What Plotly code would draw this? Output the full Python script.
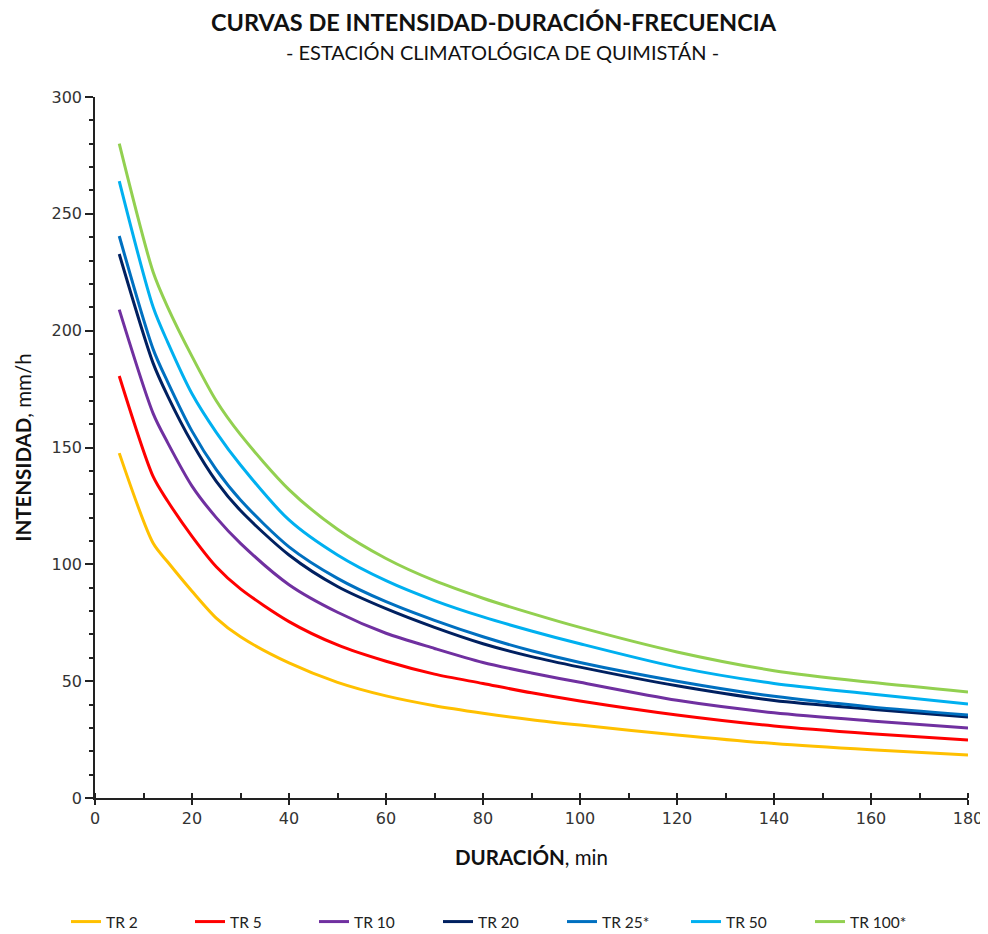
import plotly.graph_objects as go

# Duraciones (min)
duracion = [5, 12, 15, 20, 25, 30, 40, 50, 60, 70, 80, 90, 100, 120, 140, 160, 180]

# Intensidades (mm/h) por periodo de retorno
tr2 = [147.6, 109, 101, 88.5, 77, 69, 57.8, 49.5, 43.7, 39.5, 36.3, 33.5, 31.2, 27, 23.3, 20.6, 18.4]
tr5 = [180.6, 137.5, 127, 112, 99, 89.5, 75.5, 65.5, 58.5, 53, 49, 45, 41.5, 35.5, 30.8, 27.5, 24.8]
tr10 = [209, 164.5, 152, 133.5, 120, 109, 91.3, 79.5, 70.5, 64, 58, 53.5, 49.5, 41.8, 36.5, 33, 30]
tr20 = [232.8, 186, 172, 152, 135.5, 123, 104, 90.5, 81, 73, 66, 60.5, 56, 48, 41.7, 38, 34.7]
tr25 = [240.5, 192, 178, 157, 140.5, 127.5, 107.5, 94, 84, 76, 69, 63, 58, 50, 43.5, 39, 35.5]
tr50 = [264, 210, 195, 173, 156.5, 142.5, 119, 104, 93, 84.5, 77.5, 71.5, 66, 56, 49, 44.5, 40.2]
tr100 = [280, 225, 210, 189, 170, 155.5, 132, 115, 102.5, 93, 85.5, 79, 73, 62.5, 54.5, 49.5, 45.4]

series = [
    ("TR 2", tr2, "#FFC000"),
    ("TR 5", tr5, "#FF0000"),
    ("TR 10", tr10, "#7030A0"),
    ("TR 20", tr20, "#002060"),
    ("TR 25*", tr25, "#0070C0"),
    ("TR 50", tr50, "#00B0F0"),
    ("TR 100*", tr100, "#92D050"),
]

fig = go.Figure()
for nombre, valores, color in series:
    fig.add_trace(go.Scatter(x=duracion, y=valores, mode="lines", name=nombre,
                             line=dict(color=color, width=3, shape="spline", smoothing=0.8)))

# la página añade 8 px de margen al body, se compensa aquí
fig.update_layout(
    width=980, height=926,
    paper_bgcolor="white", plot_bgcolor="white",
    margin=dict(l=87, r=20, t=89, b=136),
    title=dict(text="<b>CURVAS DE INTENSIDAD-DURACIÓN-FRECUENCIA</b>",
               x=(493.5 - 8) / 980, xanchor="center", y=1 - 15 / 926, yanchor="middle",
               font=dict(family="Lato", size=23.5, color="#111111")),
    annotations=[dict(text="- ESTACIÓN CLIMATOLÓGICA DE QUIMISTÁN -", xref="paper", yref="paper",
                      x=(502 - 95) / 873, y=(790 - 44) / 701, showarrow=False,
                      xanchor="center", yanchor="middle",
                      font=dict(family="Lato", size=20, color="#111111"))],
    legend=dict(orientation="h", x=(500 - 8) / 980, xanchor="center", xref="container",
                y=1 - 914 / 926, yanchor="middle", yref="container",
                font=dict(family="Lato", size=15.5, color="#222222"),
                entrywidth=79, entrywidthmode="pixels", itemwidth=30),
    font=dict(family="DejaVu Sans", color="#333333"),
)

fig.update_xaxes(range=[0, 180], dtick=20, showgrid=False, zeroline=False, automargin=False,
                 showline=True, linecolor="#222222", linewidth=1.5,
                 ticks="outside", ticklen=5, tickwidth=1.5, tickcolor="#222222",
                 minor=dict(dtick=10, ticks="inside", ticklen=5, tickcolor="#222222"),
                 tickfont=dict(family="DejaVu Sans", size=16, color="#333333"),
                 title=dict(text="<b>DURACIÓN</b>, min", standoff=24,
                            font=dict(family="Lato", size=20.5, color="#111111")))
fig.update_yaxes(range=[0, 300], dtick=50, showgrid=False, zeroline=False, automargin=False,
                 showline=True, linecolor="#222222", linewidth=1.5,
                 ticks="outside", ticklen=8, tickwidth=1.5, tickcolor="#222222",
                 minor=dict(dtick=10, ticks="outside", ticklen=4, tickcolor="#222222"),
                 tickfont=dict(family="DejaVu Sans", size=16, color="#333333"),
                 title=dict(text="<b>INTENSIDAD</b>, mm/h", standoff=14,
                            font=dict(family="Lato", size=20.5, color="#111111")))

fig.write_html("out.html")
